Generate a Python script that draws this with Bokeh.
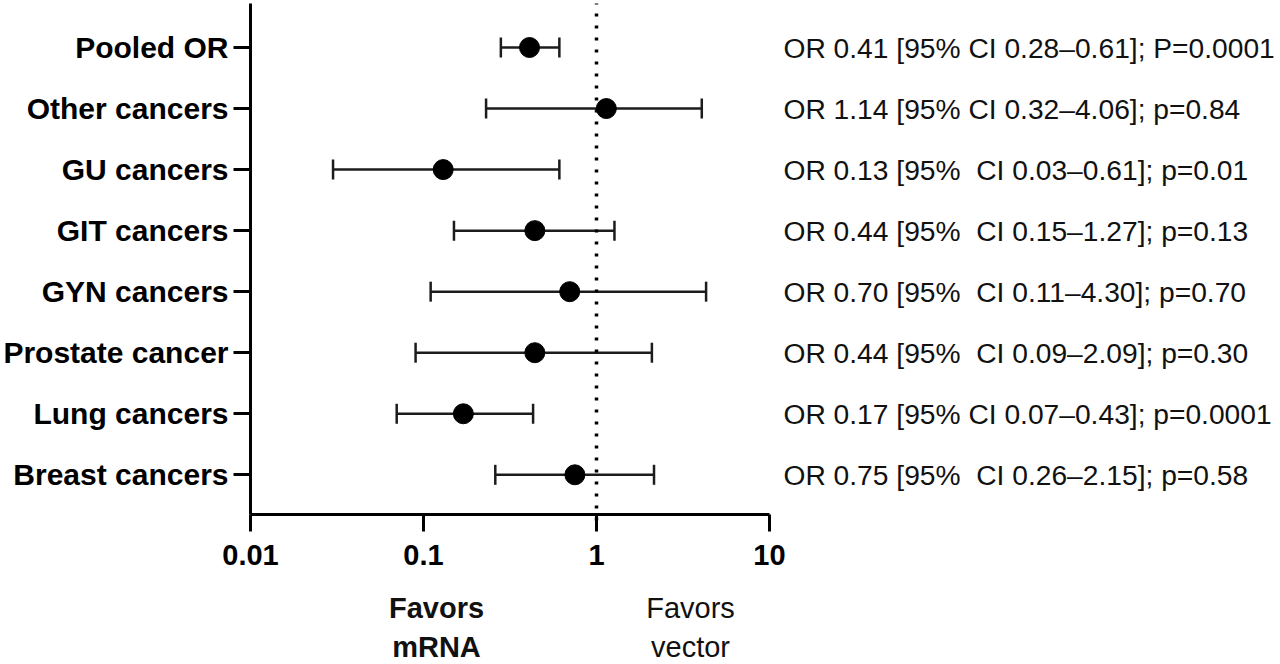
import math
from bokeh.plotting import figure
from bokeh.models import (ColumnDataSource, Range1d, FixedTicker, Whisker, TeeHead,
                          LinearAxis, LogAxis, LogScale, LinearScale)
from bokeh.core.properties import value
from bokeh.embed import file_html
from bokeh.resources import INLINE

# ---------------- data ----------------
categories = ["Pooled OR", "Other cancers", "GU cancers", "GIT cancers",
              "GYN cancers", "Prostate cancer", "Lung cancers", "Breast cancers"]
odds_ratio = [0.41, 1.14, 0.13, 0.44, 0.70, 0.44, 0.17, 0.75]
ci_lower = [0.28, 0.23, 0.03, 0.15, 0.11, 0.09, 0.07, 0.26]
ci_upper = [0.61, 4.06, 0.61, 1.27, 4.30, 2.09, 0.43, 2.15]
annotations = [
    "OR 0.41 [95% CI 0.28\u20130.61]; P=0.0001",
    "OR 1.14 [95% CI 0.32\u20134.06]; p=0.84",
    "OR 0.13 [95%\u00a0 CI 0.03\u20130.61]; p=0.01",
    "OR 0.44 [95%\u00a0 CI 0.15\u20131.27]; p=0.13",
    "OR 0.70 [95%\u00a0 CI 0.11\u20134.30]; p=0.70",
    "OR 0.44 [95%\u00a0 CI 0.09\u20132.09]; p=0.30",
    "OR 0.17 [95% CI 0.07\u20130.43]; p=0.0001",
    "OR 0.75 [95%\u00a0 CI 0.26\u20132.15]; p=0.58",
]
x_ticks = [0.01, 0.1, 1, 10]
x_tick_labels = ["0.01", "0.1", "1", "10"]
favors_left = ["Favors", "mRNA"]
favors_right = ["Favors", "vector"]
reference_line = 1

# ---------------- layout (pixels) ----------------
FONT = "Liberation Sans"
W, H = 1280, 664
AX_LEFT_PX, AX_RIGHT_PX = 250, 769      # x of first / last x tick
AX_BOTTOM_PX, AX_TOP_PX = 514, 3        # y of x-axis line / top of y-axis
ROW_TOP_PX, ROW_BOTTOM_PX = 47, 474.3   # centres of first / last rows

n = len(categories)
rows = [n - i for i in range(n)]

decade_px = (AX_RIGHT_PX - AX_LEFT_PX) / (math.log10(x_ticks[-1]) - math.log10(x_ticks[0]))


def x_at(px):
    return 10 ** (math.log10(x_ticks[0]) + (px - AX_LEFT_PX) / decade_px)


row_px = (ROW_BOTTOM_PX - ROW_TOP_PX) / (rows[0] - rows[-1])


def y_at(px):
    return rows[-1] - (px - ROW_BOTTOM_PX) / row_px


y_axis_bottom, y_axis_top = y_at(AX_BOTTOM_PX), y_at(AX_TOP_PX)

src = ColumnDataSource(dict(y=rows, cat=categories, orr=odds_ratio,
                            lo=ci_lower, hi=ci_upper, txt=annotations,
                            tx=[x_ticks[-1]] * n))

p = figure(width=W, height=H, x_axis_type="log",
           x_range=Range1d(x_at(0), x_at(W)), y_range=Range1d(y_at(H), y_at(0)),
           x_axis_location=None, y_axis_location=None,
           output_backend="svg", toolbar_location=None,
           min_border_left=0, min_border_right=0,
           min_border_top=0, min_border_bottom=0)
p.x_scale = LogScale()
p.y_scale = LinearScale()
p.grid.visible = False
p.outline_line_color = None
p.background_fill_color = "white"
p.border_fill_color = "white"

xaxis = LogAxis(fixed_location=y_axis_bottom, bounds=(x_ticks[0], x_ticks[-1]))
yaxis = LinearAxis(fixed_location=x_ticks[0], bounds=(y_axis_bottom, y_axis_top))
for ax in (xaxis, yaxis):
    ax.axis_line_width = 3
    ax.axis_line_color = "black"
    ax.major_tick_line_width = 3
    ax.major_tick_line_color = "black"
    ax.major_tick_out = 17
    ax.major_tick_in = 0
    ax.minor_tick_line_color = None
    ax.major_label_text_font = FONT
    ax.major_label_text_font_style = "bold"
    ax.major_label_text_color = "black"

xaxis.ticker = FixedTicker(ticks=x_ticks, minor_ticks=[])
xaxis.major_label_overrides = dict(zip(x_ticks, x_tick_labels))
xaxis.major_label_standoff = 13
xaxis.major_label_text_font_size = "29px"
yaxis.ticker = FixedTicker(ticks=rows, minor_ticks=[])
yaxis.major_label_overrides = dict(zip(rows, categories))
yaxis.major_label_standoff = 5
yaxis.major_label_text_font_size = "30px"
p.add_layout(xaxis, "below")
p.add_layout(yaxis, "left")

# reference line at OR = 1
p.segment(x0=[reference_line], x1=[reference_line],
          y0=[y_at(AX_BOTTOM_PX + 6)], y1=[y_axis_top],
          line_color="black", line_width=3.5, line_dash="3 9")

# error bars
ink = "#1c1c1c"
whisk = Whisker(source=src, base="y", lower="lo", upper="hi", dimension="width",
                line_color=ink, line_width=2.5,
                lower_head=TeeHead(size=20, line_color=ink, line_width=2.5),
                upper_head=TeeHead(size=20, line_color=ink, line_width=2.5))
p.add_layout(whisk)

# points
p.scatter(x="orr", y="y", source=src, size=20, color="black")

# right-hand annotations
p.text(x="tx", y="y", text="txt", source=src, x_offset=14,
       text_font=value(FONT), text_font_size=value("28.2px"),
       text_color="#111111", text_align="left", text_baseline="middle")

# bottom "favors" labels
line_y = [y_at(607), y_at(646)]
for words, xc, style in ((favors_left, x_at(436), "bold"), (favors_right, x_at(690), "normal")):
    p.text(x=[xc] * len(words), y=line_y, text=words,
           text_font=value(FONT), text_font_style=style,
           text_font_size=value("29px"), text_color="#111111",
           text_align="center", text_baseline="middle")

open("out.html", "w").write(file_html(p, INLINE))
